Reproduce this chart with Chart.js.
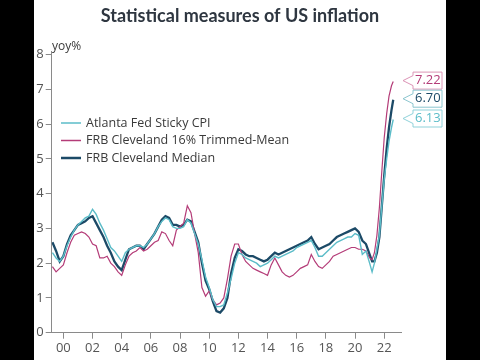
<!DOCTYPE html>
<html>
<head>
<meta charset="utf-8">
<script src="https://cdn.jsdelivr.net/npm/chart.js@4.4.0/dist/chart.umd.min.js"></script>
<style>
    html, body { margin: 0; padding: 0; background: #000; }
    #wrap { position: absolute; left: 0; top: 0; width: 480px; height: 360px; }
</style>
</head>
<body>
<div id="wrap"><canvas id="chart" width="480" height="360"></canvas></div>
<script>
// Datos (fecha decimal, % interanual)
const dates = [
    1999.25, 1999.5, 1999.75, 2000.0, 2000.25, 2000.5, 2000.75, 2001.0, 2001.25, 2001.5, 2001.75,
    2002.0, 2002.25, 2002.5, 2002.75, 2003.0, 2003.25, 2003.5, 2003.75, 2004.0, 2004.25, 2004.5, 2004.75,
    2005.0, 2005.25, 2005.5, 2005.75, 2006.0, 2006.25, 2006.5, 2006.75, 2007.0, 2007.25, 2007.5, 2007.75,
    2008.0, 2008.25, 2008.5, 2008.75, 2009.0, 2009.25, 2009.5, 2009.75, 2010.0, 2010.25, 2010.5, 2010.75,
    2011.0, 2011.25, 2011.5, 2011.75, 2012.0, 2012.25, 2012.5, 2012.75, 2013.0, 2013.25, 2013.5, 2013.75,
    2014.0, 2014.25, 2014.5, 2014.75, 2015.0, 2015.25, 2015.5, 2015.75, 2016.0, 2016.25, 2016.5, 2016.75,
    2017.0, 2017.25, 2017.5, 2017.75, 2018.0, 2018.25, 2018.5, 2018.75, 2019.0, 2019.25, 2019.5, 2019.75,
    2020.0, 2020.25, 2020.5, 2020.75, 2021.0, 2021.17, 2021.33, 2021.5, 2021.67, 2021.83,
    2022.0, 2022.17, 2022.33, 2022.5, 2022.62
];

const stickyCpi = [
    2.3, 2.15, 2.05, 2.2, 2.5, 2.75, 2.95, 3.1, 3.2, 3.3, 3.35,
    3.55, 3.4, 3.15, 2.95, 2.7, 2.45, 2.35, 2.2, 2.05, 2.3, 2.4, 2.45,
    2.5, 2.5, 2.45, 2.55, 2.7, 2.85, 3.05, 3.2, 3.3, 3.25, 3.05, 3.0,
    3.0, 3.05, 3.25, 3.15, 2.85, 2.55, 2.1, 1.6, 1.3, 0.95, 0.75, 0.75,
    0.8, 1.15, 1.55, 2.0, 2.3, 2.25, 2.15, 2.1, 2.05, 2.0, 1.9, 1.95,
    2.0, 2.1, 2.2, 2.15, 2.2, 2.25, 2.3, 2.35, 2.45, 2.5, 2.55, 2.6,
    2.65, 2.45, 2.2, 2.2, 2.3, 2.4, 2.5, 2.6, 2.65, 2.7, 2.75, 2.75,
    2.85, 2.8, 2.25, 2.35, 2.0, 1.75, 2.0, 2.4, 2.8, 3.6,
    4.4, 5.0, 5.5, 5.9, 6.13
];

const trimmedMean = [
    1.9, 1.75, 1.85, 1.95, 2.3, 2.6, 2.8, 2.85, 2.9, 2.85, 2.75,
    2.55, 2.5, 2.15, 2.15, 2.2, 2.0, 1.9, 1.75, 1.65, 1.95, 2.2, 2.3,
    2.35, 2.45, 2.35, 2.4, 2.5, 2.6, 2.65, 2.9, 2.85, 2.65, 2.5, 2.95,
    3.05, 3.15, 3.65, 3.45, 2.85, 2.3, 1.3, 1.05, 1.2, 0.95, 0.8, 0.85,
    1.0, 1.55, 2.2, 2.55, 2.55, 2.25, 2.05, 1.95, 1.85, 1.8, 1.75, 1.7,
    1.65, 1.95, 2.15, 1.95, 1.75, 1.65, 1.6, 1.65, 1.75, 1.85, 1.9, 1.95,
    2.25, 2.05, 1.9, 1.85, 1.95, 2.05, 2.2, 2.25, 2.3, 2.35, 2.4, 2.45,
    2.45, 2.4, 2.4, 2.35, 2.15, 2.1, 2.3, 2.8, 3.6, 4.6,
    5.6, 6.3, 6.8, 7.1, 7.22
];

const medianCpi = [
    2.6, 2.35, 2.05, 2.2, 2.55, 2.8, 2.95, 3.1, 3.15, 3.2, 3.3,
    3.35, 3.15, 2.95, 2.75, 2.5, 2.3, 2.05, 1.9, 1.8, 2.1, 2.4, 2.45,
    2.5, 2.5, 2.4, 2.55, 2.7, 2.85, 3.05, 3.25, 3.35, 3.3, 3.1, 3.1,
    3.05, 3.1, 3.25, 3.2, 2.9, 2.6, 2.0, 1.5, 1.25, 0.9, 0.62, 0.58,
    0.7, 1.0, 1.7, 2.15, 2.4, 2.35, 2.25, 2.2, 2.2, 2.15, 2.1, 2.05,
    2.1, 2.2, 2.3, 2.25, 2.3, 2.35, 2.4, 2.45, 2.5, 2.55, 2.6, 2.65,
    2.75, 2.55, 2.4, 2.45, 2.5, 2.55, 2.65, 2.75, 2.8, 2.85, 2.9, 2.95,
    3.0, 2.9, 2.65, 2.55, 2.25, 2.05, 2.05, 2.3, 2.75, 3.6,
    4.5, 5.3, 5.9, 6.4, 6.70
];

const seriesNames = ['Atlanta Fed Sticky CPI', 'FRB Cleveland 16% Trimmed-Mean', 'FRB Cleveland Median'];
const yearTicks = [2000, 2002, 2004, 2006, 2008, 2010, 2012, 2014, 2016, 2018, 2020, 2022];
const yearLabels = ['00', '02', '04', '06', '08', '10', '12', '14', '16', '18', '20', '22'];
const valueTicks = [0, 1, 2, 3, 4, 5, 6, 7, 8];

const colors = {
    sticky: '#5bbcc8',
    trimmed: '#b43c78',
    median: '#1c4a67',
    labelBorder: ['#8fd2da', '#dc94b6', '#8cc6cf'],
    axis: '#8a8a8a',
    text: '#3a3a3a'
};

function toPoints(values) {
    return values.map((v, i) => ({ x: dates[i], y: v }));
}

// Título, leyenda y etiquetas finales
const decorPlugin = {
    id: 'decor',
    beforeDraw(chart) {
        const ctx = chart.ctx;
        ctx.save();
        ctx.fillStyle = '#000';
        ctx.fillRect(0, 0, 480, 360);
        ctx.fillStyle = '#fff';
        ctx.fillRect(34, 0, 412, 360);
        ctx.restore();
    },
    afterDraw(chart) {
        const ctx = chart.ctx;
        const yScale = chart.scales.y;
        ctx.save();

        ctx.fillStyle = '#2e3640';
        ctx.textAlign = 'center';
        ctx.textBaseline = 'middle';
        ctx.font = 'bold 18px Lato';
        ctx.fillText('Statistical measures of US inflation', 240, 16);

        ctx.fillStyle = colors.text;
        ctx.textAlign = 'left';
        ctx.font = '12px "Open Sans"';
        ctx.fillText('yoy%', 52, 47);

        // Leyenda
        chart.data.datasets.forEach((ds, i) => {
            const y = 123 + i * 17.5;
            ctx.strokeStyle = ds.borderColor;
            ctx.lineWidth = i === 2 ? 2.5 : 1.5;
            ctx.beginPath();
            ctx.moveTo(61, y);
            ctx.lineTo(81, y);
            ctx.stroke();
            ctx.fillStyle = colors.text;
            ctx.font = '12.5px "Open Sans"';
            ctx.fillText(ds.label, 86, y);
        });

        // Etiquetas de último valor
        chart.data.datasets.forEach((ds, i) => {
            const last = ds.data[ds.data.length - 1].y;
            const cy = yScale.getPixelForValue(last) - 1;
            const h = 8.5;
            ctx.beginPath();
            ctx.moveTo(413, cy - h);
            ctx.lineTo(442, cy - h);
            ctx.lineTo(442, cy + h);
            ctx.lineTo(413, cy + h);
            ctx.lineTo(413, cy + 5);
            ctx.lineTo(403, cy);
            ctx.lineTo(413, cy - 5);
            ctx.closePath();
            ctx.fillStyle = '#fff';
            ctx.fill();
            ctx.strokeStyle = colors.labelBorder[i];
            ctx.lineWidth = 1;
            ctx.stroke();
            ctx.fillStyle = ds.borderColor;
            ctx.font = '13px "Open Sans"';
            ctx.textAlign = 'left';
            ctx.fillText(last.toFixed(2), 415, cy);
        });

        ctx.restore();
    }
};

const chart = new Chart(document.getElementById('chart'), {
    type: 'line',
    data: {
        datasets: [
            {
                label: seriesNames[0],
                data: toPoints(stickyCpi),
                borderColor: colors.sticky,
                borderWidth: 1.4,
                order: 1
            },
            {
                label: seriesNames[1],
                data: toPoints(trimmedMean),
                borderColor: colors.trimmed,
                borderWidth: 1.2,
                order: 2
            },
            {
                label: seriesNames[2],
                data: toPoints(medianCpi),
                borderColor: colors.median,
                borderWidth: 2.3,
                order: 3
            }
        ]
    },
    options: {
        responsive: false,
        animation: false,
        elements: {
            point: { radius: 0 },
            line: { tension: 0, fill: false }
        },
        layout: {
            padding: { top: 51, right: 78.3, bottom: 0, left: 0 }
        },
        plugins: {
            legend: { display: false },
            title: { display: false },
            tooltip: { enabled: false }
        },
        scales: {
            x: {
                type: 'linear',
                min: 1999.2,
                max: 2023.2,
                afterBuildTicks: s => { s.ticks = yearTicks.map(v => ({ value: v })); },
                afterFit: s => { s.height = 27.3; },
                ticks: {
                    callback: value => yearLabels[yearTicks.indexOf(value)],
                    font: { family: 'Open Sans', size: 13 },
                    color: '#555',
                    padding: 2,
                    maxRotation: 0,
                    autoSkip: false
                },
                grid: {
                    drawOnChartArea: false,
                    drawTicks: true,
                    tickLength: 6,
                    color: colors.axis
                },
                border: { color: colors.axis }
            },
            y: {
                min: 0,
                max: 8.1,
                afterBuildTicks: s => { s.ticks = valueTicks.map(v => ({ value: v })); },
                afterFit: s => { s.width = 51.7; },
                ticks: {
                    font: { family: 'Open Sans', size: 13 },
                    color: '#555',
                    padding: 2
                },
                grid: {
                    drawOnChartArea: false,
                    drawTicks: true,
                    tickLength: 6,
                    color: colors.axis
                },
                border: { color: colors.axis }
            }
        }
    },
    plugins: [decorPlugin]
});
</script>
</body>
</html>
